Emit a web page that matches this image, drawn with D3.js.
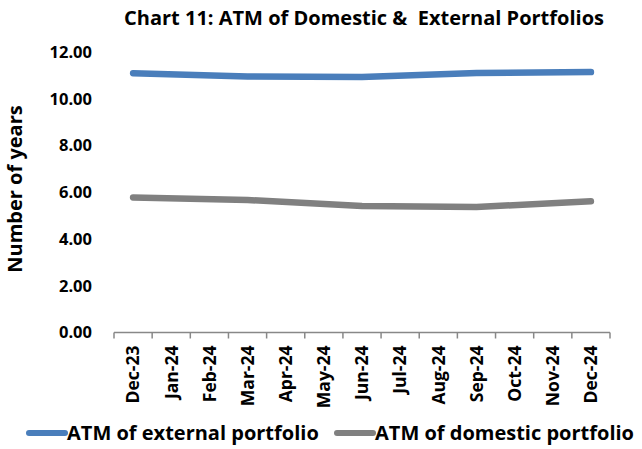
<!DOCTYPE html>
<html>
<head>
<meta charset="utf-8">
<script src="https://cdn.jsdelivr.net/npm/d3@7"></script>
<style>
  body { margin: 0; background: #fff; }
  text { font-family: "Open Sans", "Liberation Sans", sans-serif; font-weight: bold; fill: #000; white-space: pre; }
</style>
</head>
<body>
<svg id="chart" width="642" height="449"></svg>
<script>
// data; only quarter-end months carry values
var months = ['Dec-23', 'Jan-24', 'Feb-24', 'Mar-24', 'Apr-24', 'May-24', 'Jun-24',
  'Jul-24', 'Aug-24', 'Sep-24', 'Oct-24', 'Nov-24', 'Dec-24']
var externalAtm = [11.09, null, null, 10.95, null, null, 10.93, null, null, 11.10, null, null, 11.14]
var domesticAtm = [5.78, null, null, 5.67, null, null, 5.41, null, null, 5.37, null, null, 5.61]
var yTicks = [0, 2, 4, 6, 8, 10, 12]
var seriesNames = ['ATM of external portfolio', 'ATM of domestic portfolio']
var seriesColors = ['#4a7ebb', '#808080']

var svg = d3.select('#chart'),
  margin = {top: 52, right: 32, bottom: 116.5, left: 114},
  width = +svg.attr('width') - margin.left - margin.right,
  height = +svg.attr('height') - margin.top - margin.bottom

var x = d3.scaleBand().domain(months).range([0, width]),
  y = d3.scaleLinear().domain([0, 12]).range([height, 0])

var g = svg.append('g')
  .attr('transform', 'translate(' + margin.left + ',' + margin.top + ')')

svg.append('text')
  .attr('x', 364)
  .attr('y', 25)
  .style('text-anchor', 'middle')
  .style('font-size', '20px')
  .text('Chart 11: ATM of Domestic &  External Portfolios')

// y labels (no axis line in the original)
g.selectAll('.ylab')
  .data(yTicks)
  .enter().append('text')
  .attr('class', 'ylab')
  .attr('x', -22)
  .attr('y', function (d) { return y(d) })
  .attr('dy', '0.35em')
  .style('text-anchor', 'end')
  .style('font-size', '16.5px')
  .text(function (d) { return d3.format('.2f')(d) })

svg.append('text')
  .attr('transform', 'translate(22,' + 189 + ') rotate(-90)')
  .style('text-anchor', 'middle')
  .style('font-size', '20px')
  .text('Number of years')

// x axis line with ticks at band edges
var edges = months.map(function (m) { return x(m) }).concat([width])
g.append('line')
  .attr('x1', 0).attr('x2', width)
  .attr('y1', height).attr('y2', height)
  .attr('stroke', '#888').attr('stroke-width', 1.5)
g.selectAll('.tick')
  .data(edges)
  .enter().append('line')
  .attr('class', 'tick')
  .attr('x1', function (d) { return d }).attr('x2', function (d) { return d })
  .attr('y1', height).attr('y2', height + 6)
  .attr('stroke', '#888').attr('stroke-width', 1.5)

g.selectAll('.xlab')
  .data(months)
  .enter().append('text')
  .attr('class', 'xlab')
  .attr('transform', function (d) {
    return 'translate(' + (x(d) + x.bandwidth() / 2) + ',' + (height + 13) + ') rotate(-90)'
  })
  .attr('dy', '0.36em')
  .style('text-anchor', 'end')
  .style('font-size', '17.5px')
  .text(function (d) { return d })

;[externalAtm, domesticAtm].forEach(function (vals, k) {
  var pts = vals.map(function (v, i) { return {v: v, i: i} }).filter(function (p) { return p.v != null })
  g.append('path')
    .datum(pts)
    .attr('fill', 'none')
    .attr('stroke', seriesColors[k])
    .attr('stroke-width', 6.5)
    .attr('stroke-linecap', 'round')
    .attr('stroke-linejoin', 'round')
    .attr('d', d3.line()
      .x(function (p) { return x(months[p.i]) + x.bandwidth() / 2 })
      .y(function (p) { return y(p.v) }))
})

// legend
var legendX = [29, 337]
var lg = svg.selectAll('.legend')
  .data(seriesNames)
  .enter().append('g')
  .attr('class', 'legend')
  .attr('transform', function (d, i) { return 'translate(' + legendX[i] + ',433)' })
lg.append('line')
  .attr('x1', 0).attr('x2', 36)
  .attr('stroke', function (d, i) { return seriesColors[i] })
  .attr('stroke-width', 6)
  .attr('stroke-linecap', 'round')
lg.append('text')
  .attr('x', 38)
  .attr('dy', '0.35em')
  .style('font-size', '20px')
  .text(function (d) { return d })
</script>
</body>
</html>
